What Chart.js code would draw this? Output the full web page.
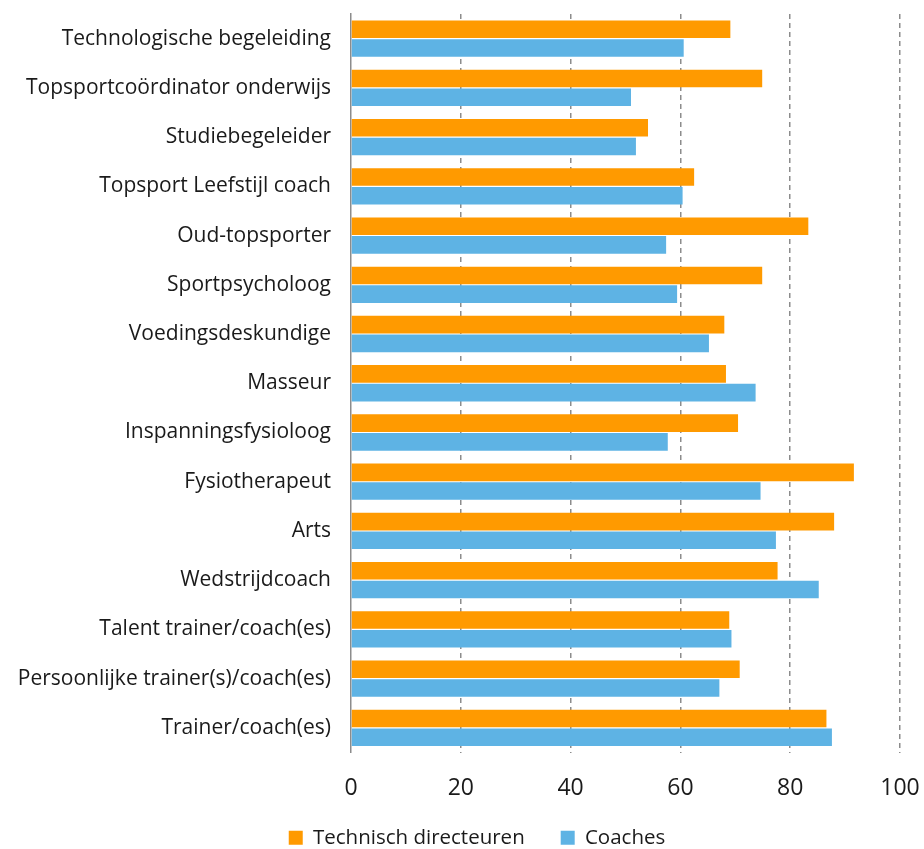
<!DOCTYPE html>
<html>
<head>
<meta charset="utf-8">
<script src="https://cdn.jsdelivr.net/npm/chart.js@4"></script>
<style>
  html, body { margin: 0; padding: 0; background: #fff; }
  #wrap { width: 924px; height: 849px; position: relative; }
</style>
</head>
<body>
<div id="wrap"><canvas id="chart"></canvas></div>
<script>
const categories = [
    "Technologische begeleiding",
    "Topsportcoördinator onderwijs",
    "Studiebegeleider",
    "Topsport Leefstijl coach",
    "Oud-topsporter",
    "Sportpsycholoog",
    "Voedingsdeskundige",
    "Masseur",
    "Inspanningsfysioloog",
    "Fysiotherapeut",
    "Arts",
    "Wedstrijdcoach",
    "Talent trainer/coach(es)",
    "Persoonlijke trainer(s)/coach(es)",
    "Trainer/coach(es)"
];

const technischDirecteuren = [69.1, 74.9, 54.1, 62.5, 83.3, 74.9, 68.0, 68.3, 70.5, 91.6, 88.0, 77.7, 68.9, 70.8, 86.6];
const coaches = [60.6, 51.0, 51.9, 60.4, 57.4, 59.4, 65.2, 73.7, 57.7, 74.6, 77.4, 85.2, 69.3, 67.1, 87.6];

const xTicks = [0, 20, 40, 60, 80, 100];

const fontFamily = "'Open Sans', sans-serif";

// the legend in the original sits a bit right of centre and close to the axis labels
const legendShift = {
    id: "legendShift",
    afterLayout(chart) {
        const lg = chart.legend;
        if (lg) {
            lg.left += 27;
            lg.right += 27;
            lg.top -= 13;
            lg.bottom -= 13;
        }
    }
};

const ctx = document.getElementById("chart").getContext("2d");

new Chart(ctx, {
    type: "bar",
    data: {
        labels: categories,
        datasets: [
            {
                label: "Technisch directeuren",
                data: technischDirecteuren,
                backgroundColor: "#ff9a00",
                categoryPercentage: 0.76,
                barPercentage: 0.94
            },
            {
                label: "Coaches",
                data: coaches,
                backgroundColor: "#5eb3e4",
                categoryPercentage: 0.76,
                barPercentage: 0.94
            }
        ]
    },
    plugins: [legendShift],
    options: {
        indexAxis: "y",
        responsive: true,
        maintainAspectRatio: false,
        animation: false,
        layout: { padding: { top: 14, right: 24, left: 0, bottom: -22 } },
        plugins: {
            tooltip: { enabled: false },
            legend: {
                position: "bottom",
                labels: {
                    boxWidth: 14,
                    boxHeight: 14,
                    padding: 36,
                    color: "#1a1a1a",
                    font: { family: fontFamily, size: 20.5 }
                }
            }
        },
        scales: {
            x: {
                min: 0,
                max: 100,
                afterBuildTicks: scale => { scale.ticks = xTicks.map(v => ({ value: v })); },
                afterFit: scale => {
                    scale.height = 52;
                    scale.paddingLeft = 0;
                    scale.paddingRight = 0;
                },
                grid: {
                    drawTicks: false,
                    lineWidth: 1.5,
                    color: c => c.tick && c.tick.value === 0 ? "rgba(0,0,0,0)" : "#8c8c8c"
                },
                border: { display: false, dash: [5, 4] },
                ticks: {
                    padding: 22,
                    color: "#1a1a1a",
                    font: { family: fontFamily, size: 23 }
                }
            },
            y: {
                afterFit: scale => {
                    scale.width = 351;
                    scale.paddingTop = 0;
                    scale.paddingBottom = 0;
                },
                grid: { display: false, drawTicks: false },
                border: { display: true, color: "#8c8c8c", width: 1.5 },
                ticks: {
                    padding: 20,
                    color: "#1a1a1a",
                    font: { family: fontFamily, size: 21 }
                }
            }
        }
    }
});
</script>
</body>
</html>
